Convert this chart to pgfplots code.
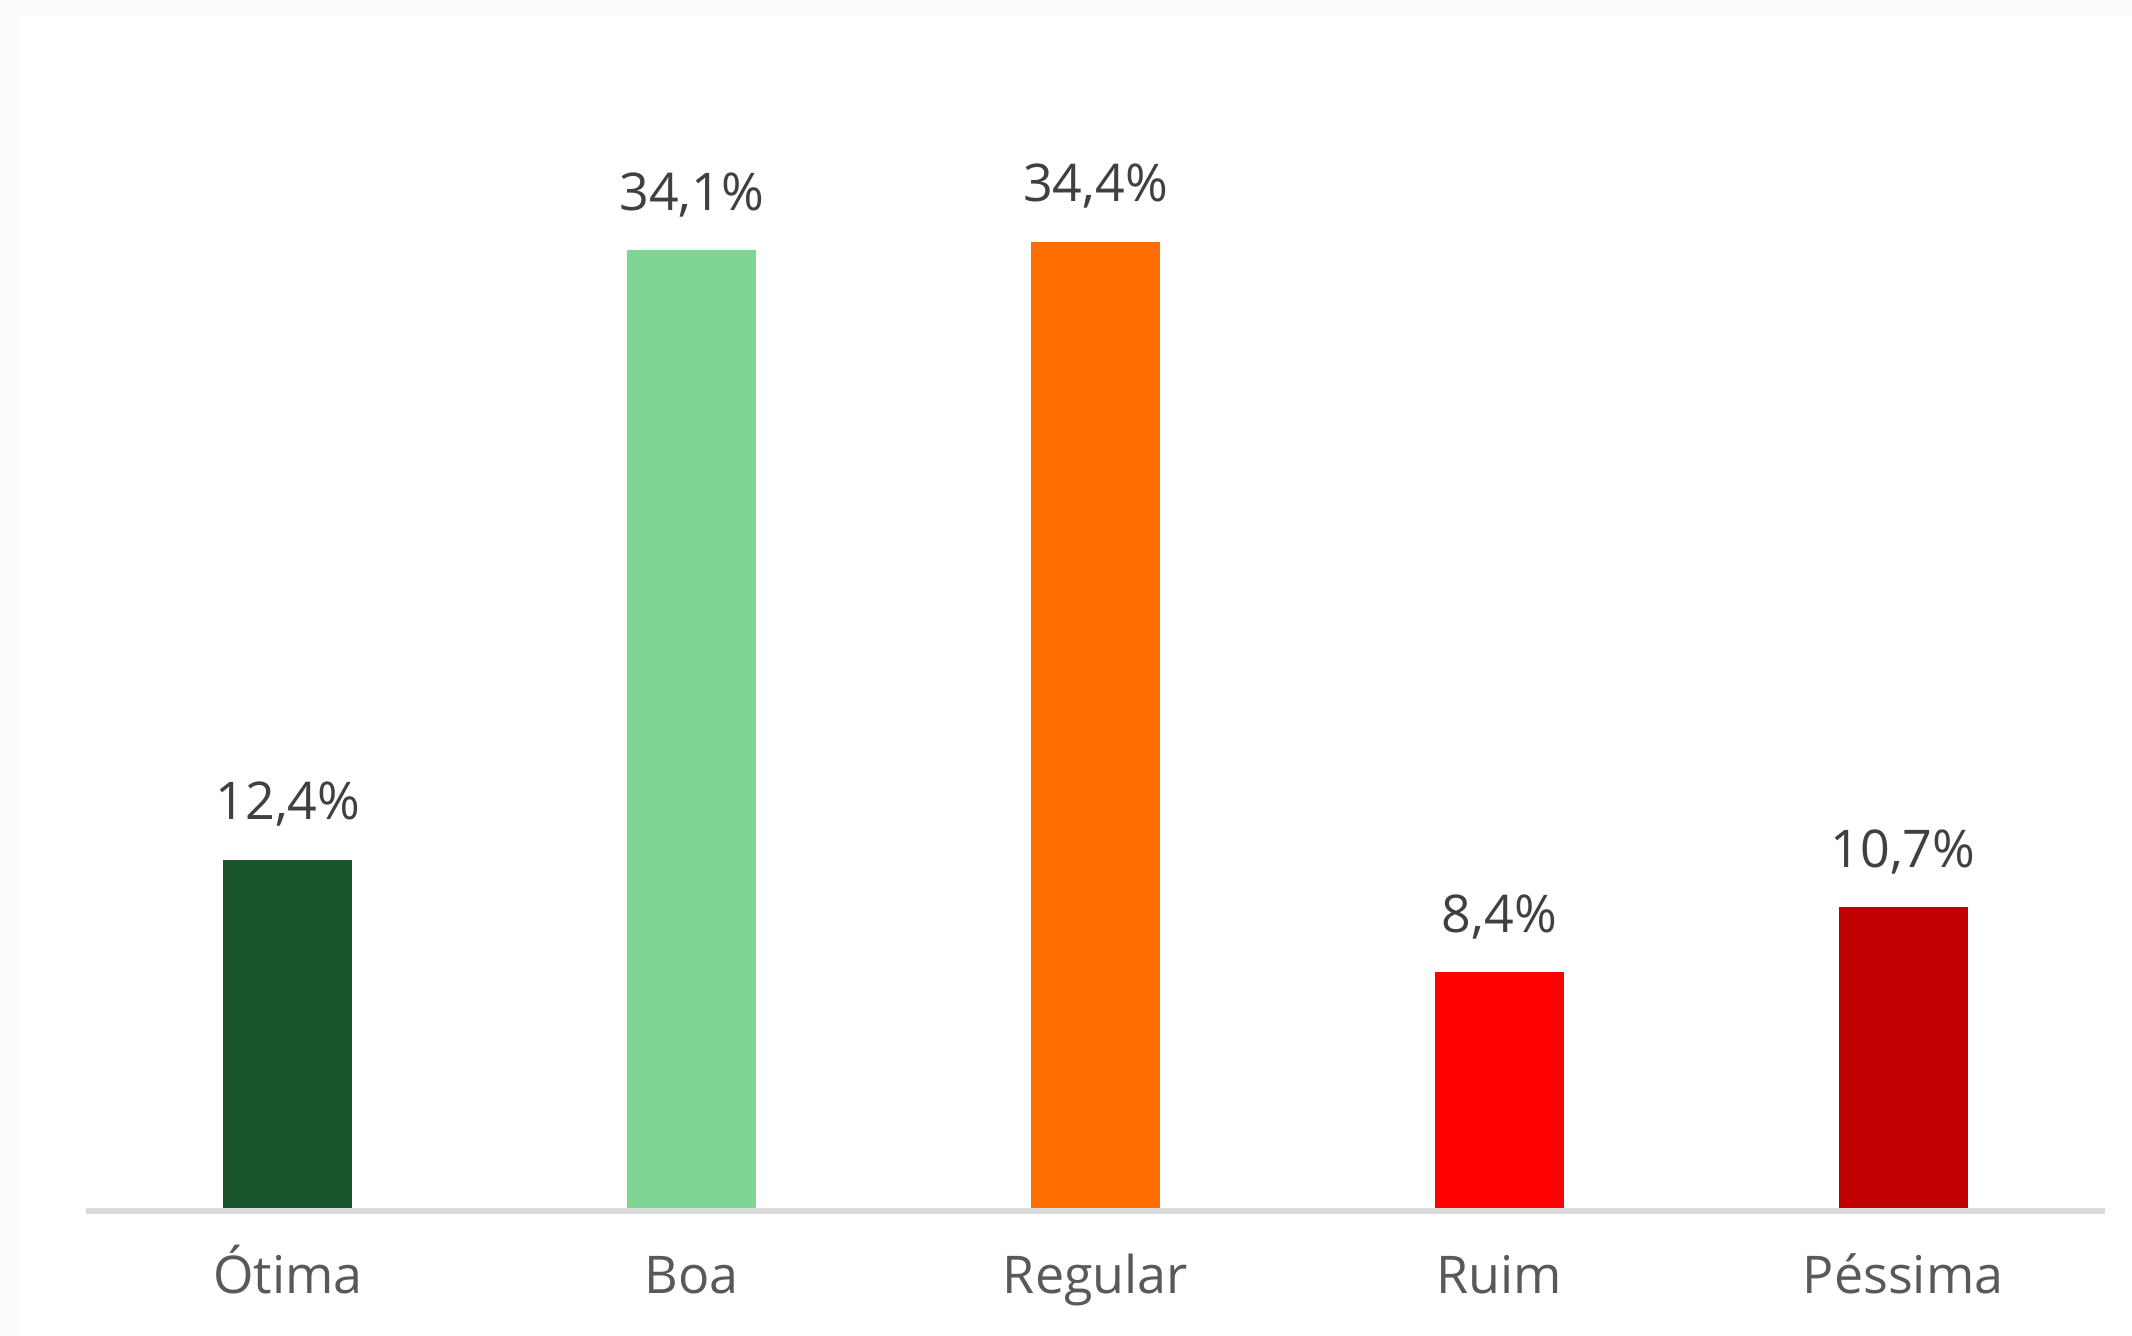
\documentclass[border=0pt]{standalone}
\usepackage{pgfplots}
\pgfplotsset{compat=1.18}
\usepackage{fontspec}
\setmainfont{Open Sans}
\definecolor{c1}{HTML}{1B552B}
\definecolor{c2}{HTML}{7DD693}
\definecolor{c3}{HTML}{FF6D00}
\definecolor{c4}{HTML}{FF0000}
\definecolor{c5}{HTML}{C00000}
\definecolor{valgray}{HTML}{404040}
\definecolor{labgray}{HTML}{595959}
\definecolor{axgray}{HTML}{D9D9D9}
\definecolor{bggray}{HTML}{FCFCFC}
\begin{document}
\begin{tikzpicture}
\path[use as bounding box, fill=white] (-21.5pt,-32pt) rectangle (511.5pt,302pt);
\fill[bggray] (-21.5pt,298pt) rectangle (511.5pt,302pt);
\fill[bggray] (-21.5pt,-32pt) rectangle (-16.5pt,302pt);
\begin{axis}[
  at={(0,0)}, anchor=south west,
  scale only axis, width=504.75pt, height=302pt,
  xmin=-0.5, xmax=4.5, ymin=0, ymax=43,
  axis line style={draw=none},
  ytick=\empty,
  xtick={0,1,2,3,4},
  xticklabels={Ótima,Boa,Regular,Ruim,Péssima},
  major tick length=0pt,
  xticklabel style={anchor=base, yshift=-21.5pt, text=labgray, font=\fontsize{13}{15}\selectfont},
  ybar, bar width=32.25pt, bar shift=0pt,
  clip=false,
  nodes near coords, point meta=explicit symbolic,
  every node near coord/.append style={anchor=base, yshift=10pt, text=valgray, font=\fontsize{13}{15}\selectfont},
]
\draw[axgray, line width=1.5pt] ([yshift=-0.75pt]rel axis cs:0,0) -- ([yshift=-0.75pt]rel axis cs:1,0);
\addplot[fill=c1, draw=none] coordinates {(0,12.4) [12,4\%]};
\addplot[fill=c2, draw=none] coordinates {(1,34.1) [34,1\%]};
\addplot[fill=c3, draw=none] coordinates {(2,34.4) [34,4\%]};
\addplot[fill=c4, draw=none] coordinates {(3,8.4) [8,4\%]};
\addplot[fill=c5, draw=none] coordinates {(4,10.7) [10,7\%]};
\end{axis}
\end{tikzpicture}
\end{document}
